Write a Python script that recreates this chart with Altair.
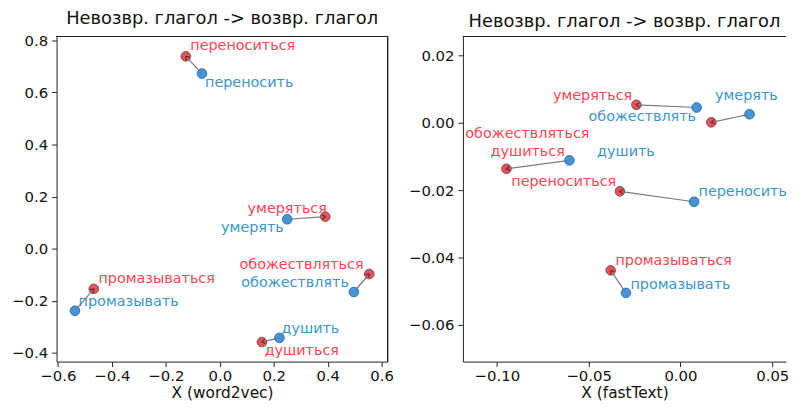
import math
import altair as alt
import pandas as pd

# ---------------- data ----------------
base_words = ["переносить", "умерять", "обожествлять", "промазывать", "душить"]
refl_words = ["переноситься", "умеряться", "обожествляться", "промазываться", "душиться"]

# word2vec panel: point positions
w2v_base_x = [-0.066, 0.250, 0.497, -0.537, 0.221]
w2v_base_y = [0.672, 0.113, -0.166, -0.238, -0.342]
w2v_refl_x = [-0.126, 0.391, 0.554, -0.467, 0.156]
w2v_refl_y = [0.738, 0.123, -0.097, -0.154, -0.358]
# word2vec panel: label centres
w2v_base_lx = [0.109, 0.121, 0.279, -0.338, 0.336]
w2v_base_ly = [0.637, 0.079, -0.133, -0.205, -0.309]
w2v_refl_lx = [0.085, 0.250, 0.303, -0.234, 0.304]
w2v_refl_ly = [0.777, 0.154, -0.061, -0.118, -0.394]

# fastText panel: point positions
ft_base_x = [0.0074, 0.0376, 0.0088, -0.0297, -0.0605]
ft_base_y = [-0.0234, 0.0026, 0.0046, -0.0505, -0.0111]
ft_refl_x = [-0.0330, 0.0168, -0.0240, -0.0380, -0.0948]
ft_refl_y = [-0.0203, 0.0002, 0.0054, -0.0438, -0.0136]
# fastText panel: label centres
ft_base_lx = [0.0339, 0.0359, -0.0208, 0.0000, -0.0297]
ft_base_ly = [-0.0206, 0.0080, 0.0018, -0.0480, -0.0086]
ft_refl_lx = [-0.0636, -0.0479, -0.0834, -0.0037, -0.0832]
ft_refl_ly = [-0.0175, 0.0080, -0.0032, -0.0410, -0.0086]

w2v_xticks = [-0.6, -0.4, -0.2, 0.0, 0.2, 0.4, 0.6]
w2v_yticks = [-0.4, -0.2, 0.0, 0.2, 0.4, 0.6, 0.8]
ft_xticks = [-0.10, -0.05, 0.00, 0.05]
ft_yticks = [-0.06, -0.04, -0.02, 0.00, 0.02]

TITLE = "Невозвр. глагол -> возвр. глагол"

# ---------------- style ----------------
FONT = "DejaVu Sans"
FS = 14.5
TFS = 15
BLUE_FILL = "#3d8fd1"
BLUE_EDGE = "#2a6ea8"
RED_FILL = "#f0454f"
RED_EDGE = "#5a5a5a"
BLUE_TEXT = "#3b96cf"
RED_TEXT = "#ff4452"
H = 328


def panel(bx, by, rx, ry, blx, bly, rlx, rly, xdom, ydom, xticks, yticks,
          fmt, xtitle, W, yext, right_spine):
    pairs = pd.DataFrame({"bx": bx, "by": by, "rx": rx, "ry": ry})
    labels = pd.DataFrame({
        "lx": blx + rlx,
        "ly": bly + rly,
        "word": base_words + refl_words,
        "kind": ["base"] * len(base_words) + ["refl"] * len(refl_words),
    })
    xs = alt.Scale(domain=xdom, nice=False, zero=False)
    ys = alt.Scale(domain=ydom, nice=False, zero=False)
    xaxis = alt.Axis(values=xticks, format=fmt, title=xtitle, grid=False,
                     labelPadding=2)
    yaxis = alt.Axis(values=yticks, format=fmt, title=None, grid=False,
                     labelPadding=4, minExtent=yext, maxExtent=yext)

    def X(f):
        return alt.X(f + ":Q", scale=xs, axis=xaxis)

    def Y(f):
        return alt.Y(f + ":Q", scale=ys, axis=yaxis)

    base = alt.Chart(pairs)
    lines = base.mark_rule(color="#7a7a7a", strokeWidth=1.2).encode(
        x=X("bx"), y=Y("by"), x2="rx:Q", y2="ry:Q")
    # arrow head direction computed in pixel space from the scale sizes
    sx = W / (xdom[1] - xdom[0])
    sy = H / (ydom[1] - ydom[0])
    heads = base.transform_calculate(
        ang=f"(atan2(-(datum.ry-datum.by)*{sy}, (datum.rx-datum.bx)*{sx})*180/PI+360)%360"
    ).mark_point(shape="M-1,-0.7L0,0L-1,0.7", filled=False, color="#222",
                 strokeWidth=1.1, size=45).encode(
        x=X("rx"), y=Y("ry"), angle=alt.Angle("ang:Q", scale=None))
    bpts = base.mark_circle(size=95, fill=BLUE_FILL, stroke=BLUE_EDGE,
                            strokeWidth=1, opacity=0.95).encode(x=X("bx"), y=Y("by"))
    rpts = base.mark_circle(size=95, fill=RED_FILL, stroke=RED_EDGE,
                            strokeWidth=1, opacity=0.95).encode(x=X("rx"), y=Y("ry"))
    txt = alt.Chart(labels).mark_text(font=FONT, fontSize=FS, align="center",
                                      baseline="middle").encode(
        x=X("lx"), y=Y("ly"), text="word:N",
        color=alt.Color("kind:N", scale=alt.Scale(domain=["base", "refl"],
                                                  range=[BLUE_TEXT, RED_TEXT]),
                        legend=None))
    top = alt.Chart(pairs).mark_rule(color="#222", strokeWidth=1).encode(
        x=alt.value(0), x2=alt.value(W), y=alt.value(0))
    layers = [lines, bpts, rpts, heads, txt, top]
    if right_spine:
        layers.append(alt.Chart(pairs).mark_rule(color="#222", strokeWidth=1).encode(
            x=alt.value(W), y=alt.value(0), y2=alt.value(H)))
    return alt.layer(*layers).properties(
        width=W, height=H,
        title=alt.TitleParams(TITLE, fontSize=18, fontWeight="normal", font=FONT,
                              color="#111", anchor="middle", offset=5))


left = panel(w2v_base_x, w2v_base_y, w2v_refl_x, w2v_refl_y,
             w2v_base_lx, w2v_base_ly, w2v_refl_lx, w2v_refl_ly,
             [-0.605, 0.622], [-0.433, 0.814], w2v_xticks, w2v_yticks,
             ".1f", "X (word2vec)", 334, 46, True)
right = panel(ft_base_x, ft_base_y, ft_refl_x, ft_refl_y,
              ft_base_lx, ft_base_ly, ft_refl_lx, ft_refl_ly,
              [-0.1185, 0.0575], [-0.0709, 0.0257], ft_xticks, ft_yticks,
              ".2f", "X (fastText)", 326, 56, False)

chart = alt.hconcat(left, right, spacing=14).properties(
    padding={"left": 3, "right": 0, "top": 0, "bottom": 0},
    background="white",
).configure_view(stroke=None).configure_axis(
    domainColor="#222", domainWidth=1, tickColor="#222", tickSize=5,
    tickWidth=1, labelFont=FONT, labelFontSize=TFS, labelColor="#111",
    titleFont=FONT, titleFontSize=15.5, titleFontWeight="normal",
    titleColor="#111", titlePadding=2,
)

chart.save("out.html", embed_options={"renderer": "svg", "actions": False})
